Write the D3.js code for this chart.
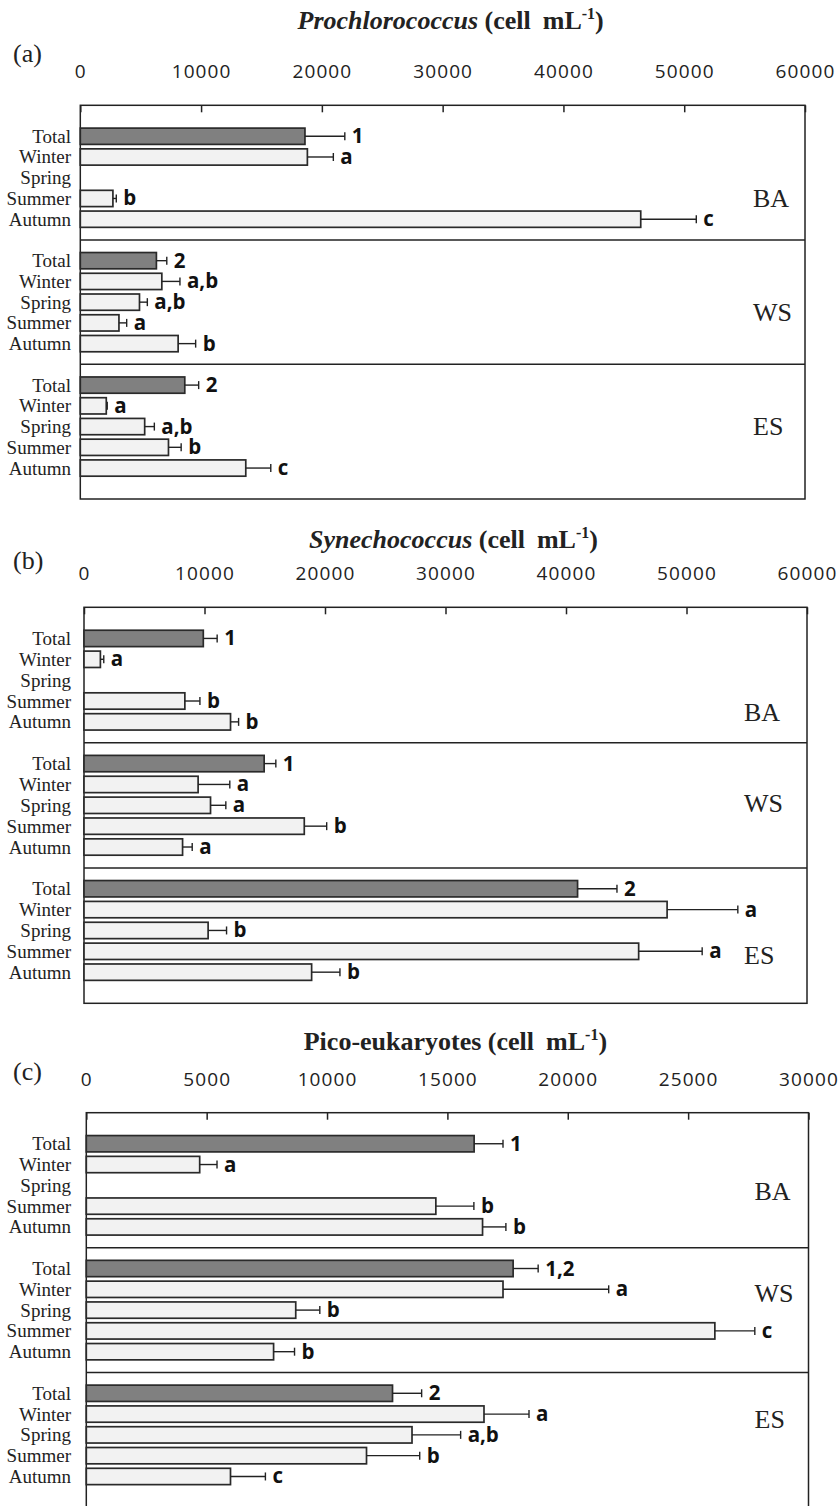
<!DOCTYPE html>
<html>
<head>
<meta charset="utf-8">
<script src="https://cdn.jsdelivr.net/npm/d3@7/dist/d3.min.js"></script>
<style>
  html, body { margin: 0; padding: 0; background: #fff; }
  svg { display: block; }
  .serif { font-family: "Liberation Serif", "Times New Roman", serif; }
  .sans { font-family: "Open Sans", "Liberation Sans", sans-serif; }
</style>
</head>
<body>
<svg id="chart" width="840" height="1506"></svg>
<script>
// ---- categories ----
const regions = ["BA", "WS", "ES"];
const seasons = ["Total", "Winter", "Spring", "Summer", "Autumn"];

// ---- (a) Prochlorococcus, cell mL-1 : mean, SD, significance letters (BA, WS, ES x seasons) ----
const prochloroMean = [18600, 18800, null, 2700, 46400,
                       6300, 6750, 4900, 3200, 8100,
                       8650, 2150, 5330, 7300, 13700];
const prochloroSD   = [3300, 2150, null, 280, 4600,
                       860, 1500, 650, 640, 1450,
                       1150, 80, 800, 1050, 2070];
const prochloroSig  = ["1", "a", "", "b", "c",
                       "2", "a,b", "a,b", "a", "b",
                       "2", "a", "a,b", "b", "c"];
const prochloroTicks = [0, 10000, 20000, 30000, 40000, 50000, 60000];

// ---- (b) Synechococcus ----
const synechoMean = [9900, 1360, null, 8370, 12160,
                     14950, 9470, 10500, 18280, 8180,
                     40960, 48390, 10300, 46030, 18890];
const synechoSD   = [1150, 280, null, 1250, 670,
                     970, 2630, 1270, 1860, 800,
                     3270, 5870, 1530, 5270, 2350];
const synechoSig  = ["1", "a", "", "b", "b",
                     "1", "a", "a", "b", "a",
                     "2", "a", "b", "a", "b"];
const synechoTicks = [0, 10000, 20000, 30000, 40000, 50000, 60000];

// ---- (c) Pico-eukaryotes ----
const picoMean = [16110, 4710, null, 14520, 16460,
                  17730, 17310, 8700, 26110, 7780,
                  12720, 16520, 13530, 11640, 5990];
const picoSD   = [1200, 720, null, 1580, 970,
                  1040, 4390, 1000, 1660, 870,
                  1210, 1870, 2020, 2210, 1450];
const picoSig  = ["1", "a", "", "b", "b",
                  "1,2", "a", "b", "c", "b",
                  "2", "a", "a,b", "b", "c"];
const picoTicks = [0, 5000, 10000, 15000, 20000, 25000, 30000];

// ---- panel layout ----
const panels = [
  { tag: "(a)", title: [{t: "Prochlorococcus", italic: true}], mean: prochloroMean, sd: prochloroSD, sig: prochloroSig, ticks: prochloroTicks,
    left: 80.3, right: 805, top: 105.3, bottom: 499, titleY: 28.5, tagY: 61.7, regionRows: [3.0, 2.5, 2.0], regionInset: 52 },
  { tag: "(b)", title: [{t: "Synechococcus", italic: true}], mean: synechoMean, sd: synechoSD, sig: synechoSig, ticks: synechoTicks,
    left: 84, right: 807, top: 607.3, bottom: 1003.3, titleY: 547.7, tagY: 569.3, regionRows: [3.55, 1.9, 3.2], regionInset: 63 },
  { tag: "(c)", title: [{t: "Pico-eukaryotes", italic: false}], mean: picoMean, sd: picoSD, sig: picoSig, ticks: picoTicks,
    left: 86.3, right: 808.5, top: 1112.7, bottom: 1507.5, titleY: 1050, tagY: 1080, regionRows: [2.3, 1.2, 1.25], regionInset: 54 }
];

// row slots: five seasons per region, one empty slot between regions
const slots = [];
regions.forEach((r, i) => {
  seasons.forEach(s => slots.push(r + "|" + s));
  if (i < regions.length - 1) slots.push("gap" + i);
});

const ink = "#222";
const svg = d3.select("#chart");

function drawPanel(p) {
  const g = svg.append("g");
  const x = d3.scaleLinear().domain([0, d3.max(p.ticks)]).range([p.left, p.right]);
  const y = d3.scaleBand().domain(slots).range([p.top, p.bottom]).paddingInner(0.215).paddingOuter(1.1);
  const bw = y.bandwidth();

  const rows = [];
  regions.forEach((r, ri) => seasons.forEach((s, si) => {
    const k = ri * seasons.length + si;
    rows.push({ region: r, season: s, key: r + "|" + s, mean: p.mean[k], sd: p.sd[k], sig: p.sig[k] });
  }));

  // title
  const title = g.append("text").attr("class", "serif")
    .attr("x", (p.left + p.right) / 2 + 8).attr("y", p.titleY)
    .attr("text-anchor", "middle").attr("font-size", 26).attr("font-weight", "bold").attr("fill", ink);
  p.title.forEach(part => title.append("tspan").attr("font-style", part.italic ? "italic" : "normal").text(part.t));
  title.append("tspan").text(" (cell");
  title.append("tspan").attr("dx", 12).text("mL");
  title.append("tspan").attr("font-size", 16).attr("dy", -10).text("-1");
  title.append("tspan").attr("dy", 10).text(")");

  // panel tag
  g.append("text").attr("class", "serif").attr("x", 13).attr("y", p.tagY)
    .attr("font-size", 26).attr("fill", ink).text(p.tag);

  // top axis: labels above the frame, ticks pointing into it
  const axis = d3.axisTop(x).tickValues(p.ticks).tickFormat(d3.format("d"))
    .tickSizeInner(-7).tickSizeOuter(0).tickPadding(27);
  const ax = g.append("g").attr("transform", `translate(0,${p.top})`).call(axis);
  ax.select(".domain").remove();
  ax.selectAll(".tick line").attr("stroke", ink).attr("stroke-width", 1.5);
  ax.selectAll(".tick text").attr("class", "sans").attr("font-size", 19)
    .attr("letter-spacing", 1.1).attr("fill", ink);

  // frame
  g.append("rect").attr("x", p.left).attr("y", p.top)
    .attr("width", p.right - p.left).attr("height", p.bottom - p.top)
    .attr("fill", "none").attr("stroke", ink).attr("stroke-width", 1.5);

  // region separators
  g.selectAll("line.sep").data(slots.filter(s => s.startsWith("gap"))).join("line")
    .attr("class", "sep")
    .attr("x1", p.left).attr("x2", p.right)
    .attr("y1", d => y(d) + bw / 2).attr("y2", d => y(d) + bw / 2)
    .attr("stroke", ink).attr("stroke-width", 1.5);

  // category labels
  g.selectAll("text.cat").data(rows).join("text")
    .attr("class", "serif cat")
    .attr("x", 71).attr("y", d => y(d.key) + bw / 2 + 6.5)
    .attr("text-anchor", "end").attr("font-size", 19).attr("fill", ink)
    .text(d => d.season);

  const withData = rows.filter(d => d.mean != null);

  // bars
  g.selectAll("rect.bar").data(withData).join("rect")
    .attr("class", "bar")
    .attr("x", x(0)).attr("y", d => y(d.key))
    .attr("width", d => x(d.mean) - x(0)).attr("height", bw)
    .attr("fill", d => d.season === "Total" ? "#808080" : "#f2f2f2")
    .attr("stroke", "#2a2a2a").attr("stroke-width", 1.7);

  // error bars
  const eb = g.selectAll("g.err").data(withData).join("g").attr("class", "err");
  eb.append("line")
    .attr("x1", d => x(d.mean)).attr("x2", d => x(d.mean + d.sd))
    .attr("y1", d => y(d.key) + bw / 2).attr("y2", d => y(d.key) + bw / 2)
    .attr("stroke", ink).attr("stroke-width", 1.4);
  eb.append("line")
    .attr("x1", d => x(d.mean + d.sd)).attr("x2", d => x(d.mean + d.sd))
    .attr("y1", d => y(d.key) + bw / 2 - 4).attr("y2", d => y(d.key) + bw / 2 + 4)
    .attr("stroke", ink).attr("stroke-width", 1.4);

  // significance letters
  g.selectAll("text.sig").data(withData).join("text")
    .attr("class", "sans sig")
    .attr("x", d => x(d.mean + d.sd) + 7).attr("y", d => y(d.key) + bw / 2 + 7)
    .attr("font-size", 20.5).attr("font-weight", "bold").attr("fill", "#111")
    .text(d => d.sig);

  // region names
  g.selectAll("text.region").data(regions).join("text")
    .attr("class", "serif region")
    .attr("x", p.right - p.regionInset)
    .attr("y", (r, i) => y(r + "|Total") + bw / 2 + p.regionRows[i] * y.step() + 8.6)
    .attr("font-size", 26).attr("fill", ink)
    .text(r => r);
}

panels.forEach(drawPanel);
</script>
</body>
</html>
